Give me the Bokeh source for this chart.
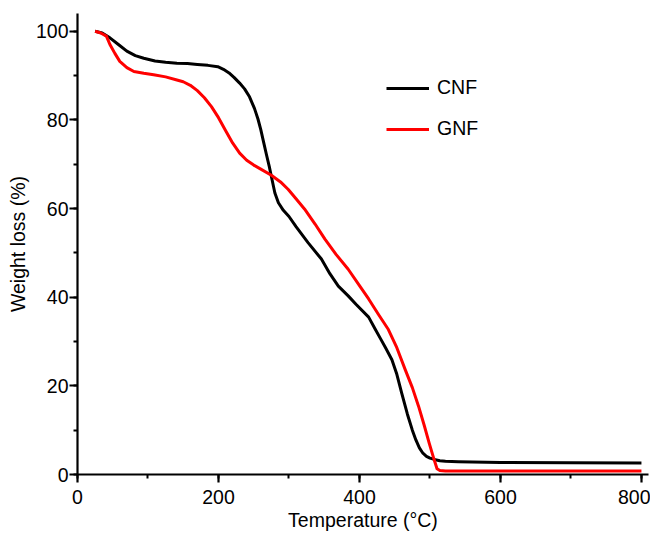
from bokeh.plotting import figure
from bokeh.models import SingleIntervalTicker, Range1d
from bokeh.embed import file_html
from bokeh.resources import INLINE

# CNF (black) TGA curve
cnf_temp = [25, 35, 46, 58, 70, 82, 94, 110, 125, 141, 156, 170, 185, 199, 207, 215, 222, 230, 237,
            244, 251, 256, 260, 264, 268, 272, 276, 280, 285, 292, 300, 310, 327, 346, 358, 370, 384,
            395, 413, 422, 430, 437, 446, 453, 460, 468, 475, 480, 485, 490, 495, 500, 506, 514, 522,
            540, 560, 600, 700, 800]
cnf_weight = [100, 99.6, 98.5, 97.0, 95.5, 94.5, 93.9, 93.3, 93.0, 92.8, 92.7, 92.5, 92.3, 92.0, 91.4,
              90.6, 89.6, 88.3, 87.0, 85.2, 82.6, 80.2, 77.8, 75.0, 72.2, 69.5, 66.5, 63.5, 61.3, 59.6,
              58.2, 55.9, 52.3, 48.6, 45.3, 42.5, 40.3, 38.4, 35.5, 32.9, 30.6, 28.6, 25.9, 22.6, 18.3,
              13.6, 10.0, 7.8, 6.0, 4.8, 4.1, 3.7, 3.4, 3.1, 3.0, 2.9, 2.8, 2.7, 2.65, 2.6]

# GNF (red) TGA curve
gnf_temp = [25, 33, 41, 46, 53, 60, 70, 80, 94, 108, 125, 141, 150, 160, 170, 180, 190, 200, 210, 220,
            230, 240, 250, 260, 275, 288, 299, 310, 322, 337, 351, 367, 384, 400, 413, 427, 441, 453,
            465, 475, 484, 492, 499, 505, 510, 514, 522, 560, 600, 700, 780, 800]
gnf_weight = [100, 99.6, 98.9, 97.0, 95.0, 93.2, 91.8, 90.9, 90.5, 90.2, 89.7, 89.0, 88.6, 87.8, 86.6,
              85.0, 83.0, 80.5, 77.6, 74.8, 72.5, 70.9, 69.8, 68.9, 67.5, 66.0, 64.3, 62.2, 59.9, 56.5,
              53.1, 49.6, 46.3, 42.6, 39.6, 36.1, 32.7, 28.6, 23.6, 19.6, 15.3, 11.0, 7.0, 3.8, 1.3,
              0.9, 0.8, 0.8, 0.8, 0.8, 0.8, 0.8]

x_label = "Temperature (°C)"
y_label = "Weight loss (%)"

FONT = "Liberation Sans"
FS = "19.5px"

p = figure(width=650, height=533, output_backend="svg", toolbar_location=None,
           x_range=Range1d(0, 810), y_range=Range1d(0, 104),
           min_border_left=77, min_border_right=2, min_border_top=13, min_border_bottom=40)
p.outline_line_color = None
p.xgrid.visible = False
p.ygrid.visible = False

p.line(cnf_temp, cnf_weight, line_color="black", line_width=3, line_join="round",
       legend_label="CNF")
p.line(gnf_temp, gnf_weight, line_color="#ff0000", line_width=3, line_join="round",
       legend_label="GNF")

p.xaxis.ticker = SingleIntervalTicker(interval=200, num_minor_ticks=2)
p.yaxis.ticker = SingleIntervalTicker(interval=20, num_minor_ticks=2)

for ax in (p.xaxis[0], p.yaxis[0]):
    ax.axis_line_width = 2.2
    ax.axis_line_color = "black"
    ax.major_tick_line_width = 2.2
    ax.minor_tick_line_width = 2
    ax.major_tick_line_color = "black"
    ax.minor_tick_line_color = "black"
    ax.major_tick_in = 0
    ax.major_tick_out = 8
    ax.minor_tick_in = 0
    ax.minor_tick_out = 4
    ax.major_label_text_font = FONT
    ax.major_label_text_font_size = FS
    ax.major_label_text_color = "black"
    ax.axis_label_text_font = FONT
    ax.axis_label_text_font_size = FS
    ax.axis_label_text_font_style = "normal"
    ax.axis_label_text_color = "black"

p.xaxis.axis_label = x_label
p.yaxis.axis_label = y_label
p.xaxis.major_label_standoff = 7
p.yaxis.major_label_standoff = 1
p.xaxis.axis_label_standoff = 2
p.yaxis.axis_label_standoff = 4

lg = p.legend[0]
lg.location = (309, 334)
lg.border_line_color = None
lg.background_fill_alpha = 0
lg.padding = 0
lg.margin = 0
lg.spacing = 18
lg.glyph_width = 43
lg.label_standoff = 8
lg.label_text_font = FONT
lg.label_text_font_size = FS
lg.label_text_color = "black"

open("out.html", "w").write(file_html(p, INLINE))
